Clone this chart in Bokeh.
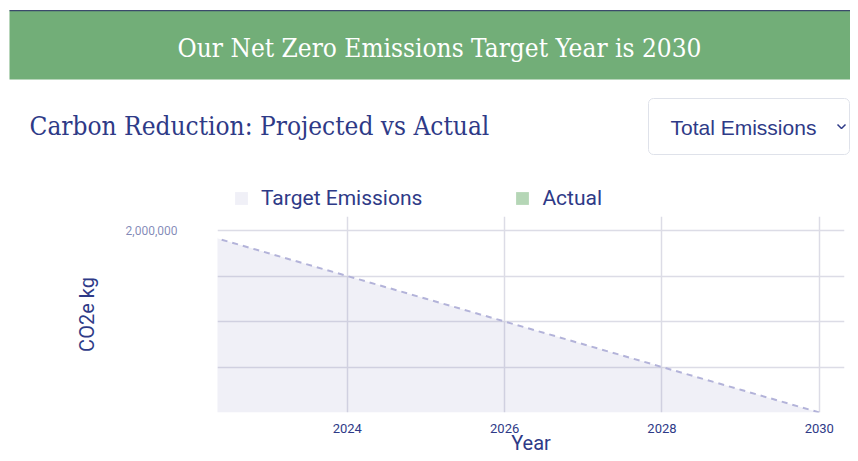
from bokeh.plotting import figure
from bokeh.models import (Range1d, FixedTicker, NumeralTickFormatter, Label,
                          BoxAnnotation, Legend, LegendItem)
from bokeh.layouts import column
from bokeh.embed import file_html
from bokeh.resources import INLINE

# ---- data ----
years = [2022, 2023, 2024, 2025, 2026, 2027, 2028, 2029, 2030]
target_kg = [2000000, 1750000, 1500000, 1250000, 1000000, 750000, 500000, 250000, 0]
actual_years = []
actual_kg = []
x_ticks = [2024, 2026, 2028, 2030]
y_grid_ticks = [0, 500000, 1000000, 1500000, 2000000]
y_label_ticks = [2000000]

header_text = "Our Net Zero Emissions Target Year is 2030"
subtitle_text = "Carbon Reduction: Projected vs Actual"
dropdown_text = "Total Emissions"
series_names = ["Target Emissions", "Actual"]

NAVY = "#2e3a87"
GRID = "#dcdce6"
TARGET_FILL = "#6a6ab5"
ACTUAL_FILL = "#b5d6b6"
SERIF = "DejaVu Serif Condensed, DejaVu Serif"
NAN = float("nan")

# layout in page pixels
O = 1                      # where the canvas starts on the page
W = 850
FR_L, FR_R, FR_T, FR_B = 218, 845, 217, 413
BOTTOM = 460

# ---- decoration strip: header band, subtitle, dropdown, legend ----
deco = figure(width=W, height=FR_T - O, x_range=Range1d(O, O + W),
              y_range=Range1d(FR_T, O), x_axis_type=None, y_axis_type=None,
              toolbar_location=None, output_backend="svg", min_border=0,
              outline_line_color=None, frame_align=False, title=None)
deco.add_layout(BoxAnnotation(left=10, right=O + W + 10, top=11, bottom=80,
                              fill_color="#72ae78", fill_alpha=1, line_color=None,
                              level="underlay"))
deco.add_layout(BoxAnnotation(left=10, right=O + W + 10, top=10.5, bottom=11.8,
                              fill_color="#3b4a6b", fill_alpha=1, line_color=None,
                              level="underlay"))
deco.add_layout(Label(x=440, y=48, text=header_text, text_align="center",
                      text_baseline="middle", text_color="white",
                      text_font=SERIF, text_font_size="26px"))
deco.add_layout(Label(x=30, y=126, text=subtitle_text, text_align="left",
                      text_baseline="alphabetic", text_color=NAVY,
                      text_font=SERIF, text_font_size="26px"))
deco.add_layout(BoxAnnotation(left=649, right=O + W - 1, top=99, bottom=155,
                              fill_color="white", fill_alpha=1,
                              line_color="#dfe2ea", line_alpha=1, line_width=1,
                              border_radius=5, level="underlay"))
deco.add_layout(Label(x=671, y=128, text=dropdown_text, text_align="left",
                      text_baseline="middle", text_color=NAVY,
                      text_font="Liberation Sans", text_font_size="21px"))
deco.line(x=[838, 842, 846], y=[125, 129, 125], line_color=NAVY, line_width=1.5)

# legend swatches (same fills as the chart's series; NaN so nothing is drawn in the strip)
sw_target = deco.quad(left=[NAN], right=[NAN], top=[NAN], bottom=[NAN],
                      fill_color=TARGET_FILL, fill_alpha=0.1, line_color=None)
sw_actual = deco.quad(left=[NAN], right=[NAN], top=[NAN], bottom=[NAN],
                      fill_color=ACTUAL_FILL, fill_alpha=1, line_color=None)
legend = Legend(items=[LegendItem(label=series_names[0], renderers=[sw_target]),
                       LegendItem(label=series_names[1], renderers=[sw_actual])],
                orientation="horizontal", location=(233, 6), padding=0, margin=0,
                spacing=92, glyph_width=16, glyph_height=16, label_standoff=12,
                label_text_font="Roboto", label_text_font_size="21px",
                label_text_color=NAVY, border_line_color=None,
                background_fill_alpha=0)
deco.add_layout(legend)

# ---- main chart ----
main_h = BOTTOM - FR_T
p = figure(width=W, height=main_h, x_range=Range1d(2022.35, 2030.32),
           y_range=Range1d(0, 2154000), toolbar_location=None,
           output_backend="svg", min_border_left=FR_L - O,
           min_border_right=O + W - FR_R, min_border_top=0,
           min_border_bottom=BOTTOM - FR_B, title=None,
           outline_line_color=None, frame_align=False)

p.varea(x=years, y1=0, y2=target_kg, fill_color=TARGET_FILL, fill_alpha=0.1)
p.line(x=years, y=target_kg, line_color="#b3b3d9", line_width=2, line_dash="6 5")
p.varea(x=actual_years, y1=0, y2=actual_kg, fill_color=ACTUAL_FILL, fill_alpha=1)

p.xgrid.ticker = FixedTicker(ticks=x_ticks)
p.ygrid.ticker = FixedTicker(ticks=y_grid_ticks)
p.grid.grid_line_color = GRID
p.grid.grid_line_width = 1.5

xa = p.xaxis[0]
xa.ticker = FixedTicker(ticks=x_ticks)
xa.axis_line_color = None
xa.major_tick_line_color = None
xa.major_tick_out = 0
xa.minor_tick_line_color = None
xa.minor_tick_out = 0
xa.major_label_text_font = "Roboto"
xa.major_label_text_font_size = "13px"
xa.major_label_text_color = NAVY
xa.major_label_standoff = 11
xa.axis_label = "Year"
xa.axis_label_text_font = "Roboto"
xa.axis_label_text_font_size = "20px"
xa.axis_label_text_font_style = "normal"
xa.axis_label_text_color = NAVY
xa.axis_label_standoff = -5

ya = p.yaxis[0]
ya.ticker = FixedTicker(ticks=y_label_ticks)
ya.formatter = NumeralTickFormatter(format="0,0")
ya.axis_line_color = None
ya.major_tick_line_color = None
ya.major_tick_out = 0
ya.minor_tick_line_color = None
ya.minor_tick_out = 0
ya.major_label_text_font = "Roboto"
ya.major_label_text_font_size = "12px"
ya.major_label_text_color = NAVY
ya.major_label_text_alpha = 0.6
ya.major_label_standoff = 40
ya.axis_label = "CO2e kg"
ya.axis_label_text_font = "Roboto"
ya.axis_label_text_font_size = "20px"
ya.axis_label_text_font_style = "normal"
ya.axis_label_text_color = NAVY
ya.axis_label_standoff = 24

layout = column(deco, p)
open("out.html", "w").write(file_html(layout, INLINE))
